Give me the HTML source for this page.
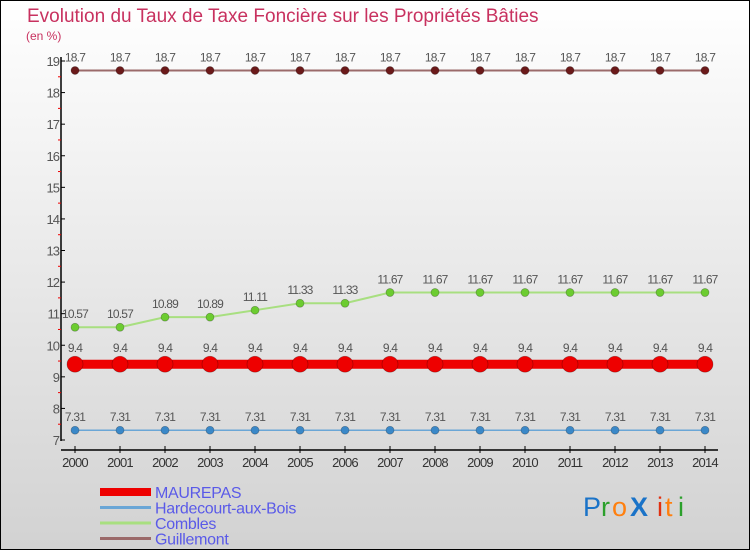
<!DOCTYPE html>
<html><head><meta charset="utf-8"><style>
html,body{margin:0;padding:0}
body{width:750px;height:550px;overflow:hidden}
svg{display:block;font-family:"Liberation Sans",sans-serif}
</style></head><body>
<svg id="c" width="750" height="550" xmlns="http://www.w3.org/2000/svg">
<defs><linearGradient id="bg" x1="0" y1="0" x2="0" y2="1"><stop offset="0" stop-color="#ffffff"/><stop offset="1" stop-color="#d2d2d2"/></linearGradient></defs>
<rect x="0.5" y="0.5" width="749" height="549" fill="url(#bg)" stroke="#000"/>
<text x="27" y="22" font-size="19" fill="#c8315f">Evolution du Taux de Taxe Foncière sur les Propriétés Bâties</text>
<text x="26" y="40" font-size="12" fill="#c8315f">(en %)</text>
<g id="axes"></g>
<g id="series"></g>
<g id="legend"></g>
<g font-size="27">
<text x="583" y="516" fill="#1a73c8">P</text><text x="601" y="516" fill="#2ca02c">r</text><text x="612" y="516" fill="#ff7f0e">o</text><text x="630" y="516" fill="#1a73c8" font-weight="bold">X</text><text x="657" y="516" fill="#e03010">i</text><text x="665" y="516" fill="#ff7f0e">t</text><text x="678" y="516" fill="#2ca02c">i</text>
</g>
</svg>
<script>
const years=[2000,2001,2002,2003,2004,2005,2006,2007,2008,2009,2010,2011,2012,2013,2014];
const yTicks=[7,8,9,10,11,12,13,14,15,16,17,18,19];
const seriesNames=["MAUREPAS","Hardecourt-aux-Bois","Combles","Guillemont"];
const maurepas=[9.4,9.4,9.4,9.4,9.4,9.4,9.4,9.4,9.4,9.4,9.4,9.4,9.4,9.4,9.4];
const hardecourt=[7.31,7.31,7.31,7.31,7.31,7.31,7.31,7.31,7.31,7.31,7.31,7.31,7.31,7.31,7.31];
const combles=[10.57,10.57,10.89,10.89,11.11,11.33,11.33,11.67,11.67,11.67,11.67,11.67,11.67,11.67,11.67];
const guillemont=[18.7,18.7,18.7,18.7,18.7,18.7,18.7,18.7,18.7,18.7,18.7,18.7,18.7,18.7,18.7];
const NS="http://www.w3.org/2000/svg";
const x=i=>75+i*(630/(years.length-1));
const y=v=>440-(v-7)*(379/12);
function mk(tag,attrs,parent,txt){const e=document.createElementNS(NS,tag);for(const k in attrs)e.setAttribute(k,attrs[k]);if(txt!==undefined)e.textContent=txt;parent.appendChild(e);return e;}
const ax=document.getElementById('axes');
let e=mk('line',{x1:61,y1:57,x2:61,y2:441,stroke:'#000','stroke-width':1.5},ax);


e=mk('line',{x1:61,y1:450,x2:718,y2:450,stroke:'#000','stroke-width':1.5},ax);


yTicks.forEach(t=>{
 mk('line',{x1:61,y1:y(t),x2:65,y2:y(t),stroke:'#000'},ax);
 if(t<19) mk('line',{x1:58,y1:y(t+0.5),x2:61,y2:y(t+0.5),stroke:'#e00'},ax);
 const l=mk('text',{x:59,y:y(t)+5,'font-size':13,fill:'#555','text-anchor':'end','letter-spacing':'-1'},ax,String(t));
 
 
});
years.forEach((yr,i)=>{
 mk('line',{x1:x(i),y1:446,x2:x(i),y2:453,stroke:'#000'},ax);
 const l=mk('text',{x:x(i),y:467,'font-size':13,fill:'#333','text-anchor':'middle','letter-spacing':'-0.8'},ax,String(yr));
 
 
});
const sg=document.getElementById('series');
const defs=[
 {name:'guillemont',data:guillemont,line:'#9b6a6a',w:2,dot:'#6b1a1a',r:4},
 {name:'combles',data:combles,line:'#a8df80',w:2,dot:'#6ccc30',r:4},
 {name:'hardecourt',data:hardecourt,line:'#6aa6d6',w:1.5,dot:'#3a88c8',r:4},
 {name:'maurepas',data:maurepas,line:'#ee0000',w:9,dot:'#ee0000',r:8}
];
defs.forEach(s=>{
 const pts=s.data.map((v,i)=>x(i)+','+y(v)).join(' ');
 const pl=mk('polyline',{points:pts,fill:'none',stroke:s.line,'stroke-width':s.w},sg);
 
 
 s.data.forEach((v,i)=>{
  const c=mk('circle',{cx:x(i),cy:y(v),r:s.r,fill:s.dot,stroke:'rgba(0,0,0,0.3)','stroke-width':0.7},sg);
  
  
  const t=mk('text',{x:x(i),y:y(v)-(s.r>5?12:9),'font-size':12,fill:'#555','text-anchor':'middle','letter-spacing':'-0.8'},sg,String(v));
  
  
 });
});
const lg=document.getElementById('legend');
const lc=[['#ee0000',8],['#6aa6d6',3],['#a8df80',3],['#9b6a6a',3]];
seriesNames.forEach((n,i)=>{
 const yy=492+i*15.5;
 const g=mk('g',{},lg);
 
 
 mk('line',{x1:100,y1:yy,x2:151,y2:yy,stroke:lc[i][0],'stroke-width':lc[i][1]},g);
 mk('text',{x:155,y:yy+6,'font-size':16,fill:'#5a5ae8','letter-spacing':'-0.3'},g,n);
});
</script>
</body></html>
